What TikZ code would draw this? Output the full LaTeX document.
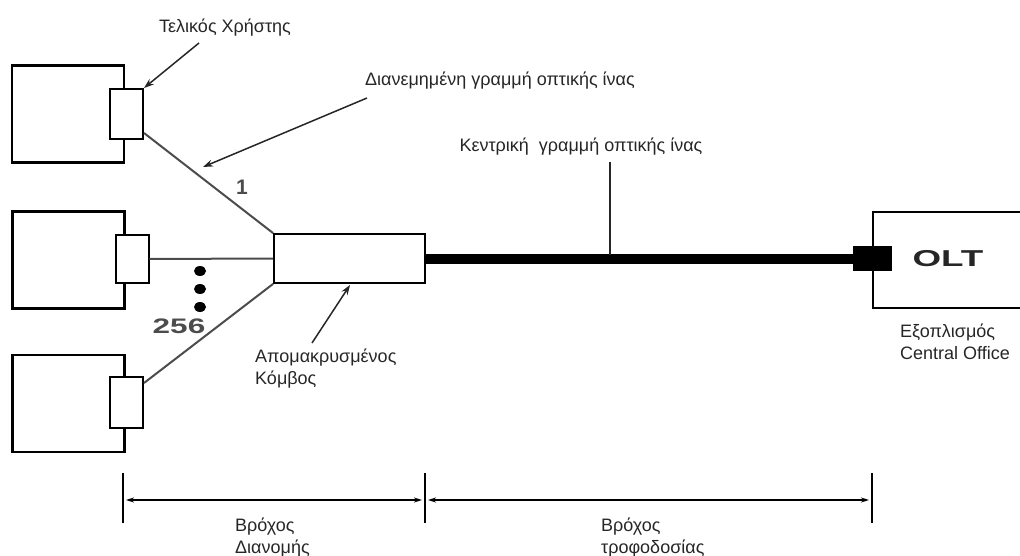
\documentclass[tikz,border=0pt]{standalone}
\usepackage{fontspec}
\setmainfont{Liberation Sans}
\usetikzlibrary{arrows.meta}

\begin{document}
\begin{tikzpicture}[x=1pt,y=-1pt,>={Stealth[length=10pt,width=7pt]},
  user/.style={draw, line width=2.4pt, inner sep=0, minimum width=112pt, minimum height=97pt},
  port/.style={draw, line width=2pt, fill=white, inner sep=0, minimum width=33pt, minimum height=50pt},
  fibre/.style={draw=black!70, line width=2pt},
  lbl/.style={font=\fontsize{18}{22}\selectfont, text=black!85, inner sep=0},
  num/.style={font=\fontsize{21}{21}\selectfont\bfseries, text=black!70, inner sep=0},
  pointer/.style={->, line width=1.5pt, draw=black!85},
  dimline/.style={{Stealth[length=8pt,width=5pt]}-{Stealth[length=8pt,width=5pt]}, line width=1.8pt},
  tickline/.style={line width=1.8pt}]
\useasboundingbox (0,0) rectangle (1020,556);

% end users
\node[user] (u1) at (68,114) {};
\node[user] (u2) at (68.5,260) {};
\node[user] (u3) at (68.5,403.5) {};
\node[port] (p1) at (126.5,114) {};
\node[port, minimum height=48pt] (p2) at (132,259) {};
\node[port, minimum height=51pt] (p3) at (126.5,402.5) {};

% remote node and OLT
\node[draw, line width=1.8pt, inner sep=0, minimum width=151pt, minimum height=49pt] (rn) at (349.5,258.5) {};
\node[draw, line width=2.4pt, inner sep=0, minimum width=157pt, minimum height=96pt] (olt) at (951.5,260) {};
\node[font=\fontsize{23}{23}\selectfont\bfseries, text=black!85, inner sep=0] (oltlbl) at (948,259) {\scalebox{1.6}[1]{OLT}};
\node[fill=black, inner sep=0, minimum width=39pt, minimum height=25pt] (conn) at (872.5,258.5) {};

% fibres
\draw[fibre] ([yshift=7pt]p1.south east) -- (rn.north west);
\draw[fibre] (p2.east) -- (rn.west);
\draw[fibre] ([yshift=-7pt]p3.north east) -- (rn.south west);
\draw[line width=10pt] (rn.east) -- (conn.west);

\foreach \y in {271,289,307}
  \fill (200,\y) ellipse (6pt and 5pt);
\node[num] (one) at (242,187) {1};
\node[num] (many) at (179,326) {\scalebox{1.5}[1]{256}};

% labels
\node[lbl] (tel) at (225,28) {Τελικός Χρήστης};
\coordinate (telarr) at (199,43);
\draw[pointer] (telarr) -- (p1.north east);

\node[lbl] (dist) at (500,81) {Διανεμημένη γραμμή οπτικής ίνας};
\coordinate (distarr) at (367,98);
\coordinate (disttip) at (203,167);
\draw[pointer] (distarr) -- (disttip);

\node[lbl] (feed) at (581,147) {Κεντρική\ \ γραμμή οπτικής ίνας};
\coordinate (feedtip) at (610,255);
\draw[line width=1.5pt, black!85] (610,162) -- (feedtip);

\node[lbl, anchor=north west, align=left] (rnlbl) at (255,349) {Απομακρυσμένος\\Κόμβος};
\coordinate (rnarr) at (312,343);
\draw[pointer] (rnarr) -- (350,285);

\node[lbl, anchor=north west, align=left] (colbl) at (900,324) {Εξοπλισμός\\Central Office};

% loops
\coordinate (d1) at (123,500);
\coordinate (d2) at (425,500);
\coordinate (d3) at (872,500);
\foreach \d in {d1,d2,d3}
  \draw[tickline] (\d) ++(0,-27) -- ++(0,50);
\draw[dimline] ([xshift=3pt]d1) -- ([xshift=-3pt]d2);
\draw[dimline] ([xshift=3pt]d2) -- ([xshift=-3pt]d3);
\node[lbl, anchor=north west, align=left] (loop1) at (235,518) {Βρόχος\\Διανομής};
\node[lbl, anchor=north west, align=left] (loop2) at (601,518) {Βρόχος\\τροφοδοσίας};
\end{tikzpicture}
\end{document}
